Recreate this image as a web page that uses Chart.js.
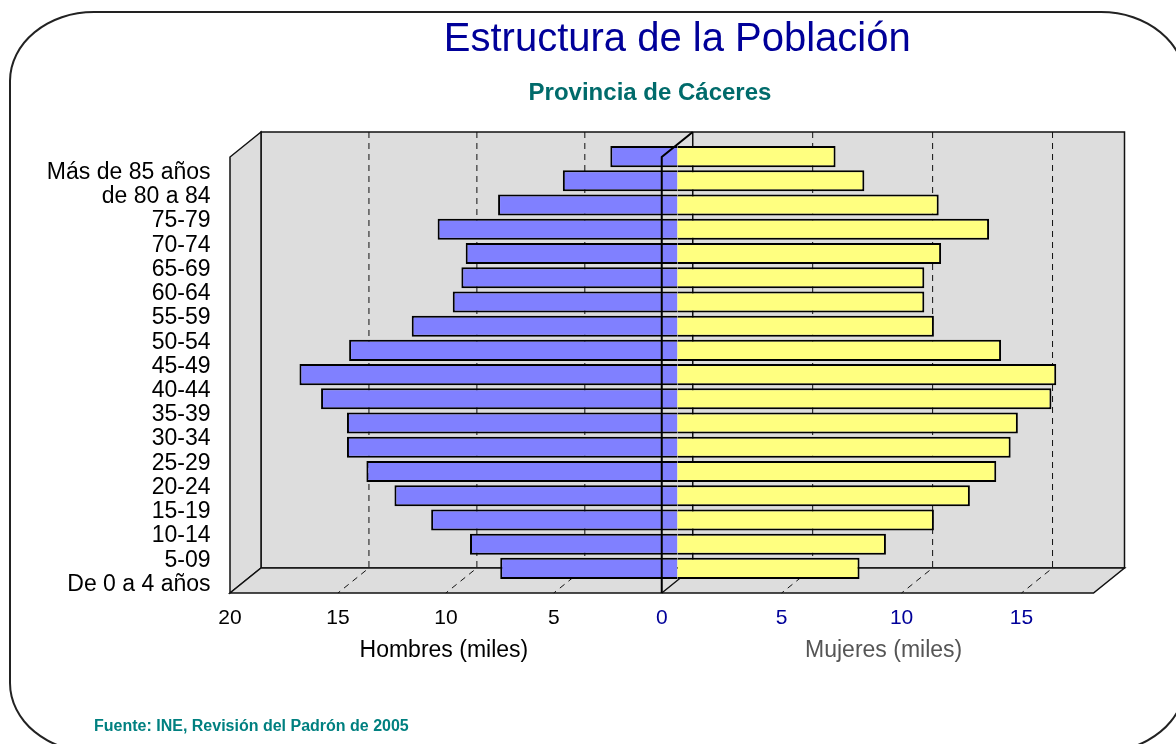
<!DOCTYPE html>
<html>
<head>
<meta charset="utf-8">
<script src="https://cdn.jsdelivr.net/npm/chart.js@4.4.0/dist/chart.umd.min.js"></script>
<style>
    html, body { margin: 0; padding: 0; background: #fff; overflow: hidden; }
    #wrap { position: relative; width: 1176px; height: 744px; overflow: hidden; }
    #frame {
        position: absolute; left: 9px; top: 11px; width: 1173px; height: 738px;
        border: 2px solid #222; border-radius: 85px / 70px;
    }
    #myChart { position: absolute; left: 0; top: 0; }
</style>
</head>
<body>
<div id="wrap">
    <div id="frame"></div>
    <canvas id="myChart" width="1176" height="744"></canvas>
</div>
<script>
const grupos = ['Más de 85 años', 'de 80 a 84', '75-79', '70-74', '65-69', '60-64', '55-59', '50-54', '45-49',
    '40-44', '35-39', '30-34', '25-29', '20-24', '15-19', '10-14', '5-09', 'De 0 a 4 años']
const hombres = [3.1, 5.3, 8.3, 11.1, 9.8, 10.0, 10.4, 12.3, 15.2, 17.5, 16.5, 15.3, 15.3, 14.4, 13.1, 11.4, 9.6, 8.2]
const mujeres = [6.6, 7.8, 10.9, 13.0, 11.0, 10.3, 10.3, 10.7, 13.5, 15.8, 15.6, 14.2, 13.9, 13.3, 12.2, 10.7, 8.7, 7.6]
const ticksHombres = [0, 5, 10, 15, 20]
const ticksMujeres = [0, 5, 10, 15]

const FONT = '"Liberation Sans", Arial, sans-serif'
const DX = 15.5
const DY = 12.5

// draws the 3d box (walls, floor, dashed grid) and the front zero line
const caja3d = {
    id: 'caja3d',
    beforeDraw: function(chart) {
        const ctx = chart.ctx
        const a = chart.chartArea
        const xm = chart.scales.xm
        const xf = chart.scales.xf
        const left = xm.getPixelForValue(20)
        const right = xf.getPixelForValue(18)
        const zero = xf.getPixelForValue(0)
        ctx.save()
        ctx.fillStyle = '#dddddd'
        ctx.strokeStyle = '#111'
        ctx.lineWidth = 1.5
        // back wall
        ctx.fillRect(left + DX, a.top - DY, right - left, a.bottom - a.top)
        ctx.strokeRect(left + DX, a.top - DY, right - left, a.bottom - a.top)
        // side wall
        ctx.beginPath()
        ctx.moveTo(left + DX, a.top - DY)
        ctx.lineTo(left + DX, a.bottom - DY)
        ctx.lineTo(left - DX, a.bottom + DY)
        ctx.lineTo(left - DX, a.top + DY)
        ctx.closePath()
        ctx.fill()
        ctx.stroke()
        // floor
        ctx.beginPath()
        ctx.moveTo(left + DX, a.bottom - DY)
        ctx.lineTo(right + DX, a.bottom - DY)
        ctx.lineTo(right - DX, a.bottom + DY)
        ctx.lineTo(left - DX, a.bottom + DY)
        ctx.closePath()
        ctx.fill()
        ctx.stroke()
        // dashed grid on wall and floor
        ctx.lineWidth = 1
        ctx.setLineDash([6, 5])
        const xs = []
        ticksHombres.forEach(function(v) { if (v > 0 && v < 20) xs.push(xm.getPixelForValue(v)) })
        ticksMujeres.forEach(function(v) { if (v > 0) xs.push(xf.getPixelForValue(v)) })
        xs.forEach(function(x) {
            ctx.beginPath()
            ctx.moveTo(x + DX, a.top - DY)
            ctx.lineTo(x + DX, a.bottom - DY)
            ctx.lineTo(x - DX, a.bottom + DY)
            ctx.stroke()
        })
        ctx.setLineDash([])
        ctx.lineWidth = 1.5
        ctx.beginPath()
        ctx.moveTo(zero + DX, a.top - DY)
        ctx.lineTo(zero + DX, a.bottom - DY)
        ctx.lineTo(zero - DX, a.bottom + DY)
        ctx.stroke()
        ctx.restore()
    },
    afterDatasetsDraw: function(chart) {
        const ctx = chart.ctx
        const a = chart.chartArea
        const zero = chart.scales.xf.getPixelForValue(0)
        ctx.save()
        ctx.strokeStyle = '#000'
        ctx.lineWidth = 2
        ctx.beginPath()
        ctx.moveTo(zero + DX, a.top - DY)
        ctx.lineTo(zero - DX, a.top + DY)
        ctx.lineTo(zero - DX, a.bottom + DY)
        ctx.stroke()
        ctx.restore()
    },
    afterDraw: function(chart) {
        const ctx = chart.ctx
        const xm = chart.scales.xm
        const xf = chart.scales.xf
        ctx.save()
        ctx.textAlign = 'center'
        ctx.textBaseline = 'middle'
        ctx.font = 'bold 24px ' + FONT
        ctx.fillStyle = '#006b6b'
        ctx.fillText('Provincia de Cáceres', 650, 93)
        ctx.font = '23px ' + FONT
        ctx.fillStyle = '#000'
        ctx.fillText('Hombres (miles)', (xm.left + xm.right) / 2 - DX - 2, 651)
        ctx.fillStyle = '#555'
        ctx.fillText('Mujeres (miles)', (xf.left + xf.right) / 2 - DX + 6, 651)
        ctx.textAlign = 'left'
        ctx.font = 'bold 16px ' + FONT
        ctx.fillStyle = '#008080'
        ctx.fillText('Fuente: INE, Revisión del Padrón de 2005', 94, 727)
        ctx.restore()
    }
}

const ctx = document.getElementById('myChart').getContext('2d')

new Chart(ctx, {
    type: 'bar',
    data: {
        labels: grupos,
        datasets: [{
            label: 'Hombres',
            data: hombres,
            xAxisID: 'xm',
            backgroundColor: '#8080ff',
            borderColor: '#000',
            borderWidth: 2,
            grouped: false,
            barPercentage: 0.87,
            categoryPercentage: 1
        }, {
            label: 'Mujeres',
            data: mujeres,
            xAxisID: 'xf',
            backgroundColor: '#ffff80',
            borderColor: '#000',
            borderWidth: 2,
            grouped: false,
            barPercentage: 0.87,
            categoryPercentage: 1
        }]
    },
    options: {
        indexAxis: 'y',
        responsive: false,
        animation: false,
        layout: {
            padding: { left: 0, right: 67, top: 0, bottom: 0 }
        },
        scales: {
            xm: {
                type: 'linear',
                position: 'bottom',
                stack: 'pir',
                reverse: true,
                min: 0,
                max: 20,
                grid: { display: false, drawTicks: false },
                border: { display: false },
                ticks: {
                    stepSize: 5,
                    includeBounds: false,
                    padding: 25,
                    labelOffset: -DX,
                    color: '#000',
                    font: { family: FONT, size: 21 },
                    callback: function(v) { return v === 0 ? '' : v }
                },
                afterFit: function(s) { s.height = 163.5 }
            },
            xf: {
                type: 'linear',
                position: 'bottom',
                stack: 'pir',
                min: 0,
                max: 18,
                grid: { display: false, drawTicks: false },
                border: { display: false },
                ticks: {
                    stepSize: 5,
                    includeBounds: false,
                    padding: 25,
                    labelOffset: -DX,
                    color: '#000099',
                    font: { family: FONT, size: 21 }
                },
                afterFit: function(s) { s.height = 163.5 }
            },
            y: {
                grid: { display: false, drawTicks: false },
                border: { display: false },
                ticks: {
                    autoSkip: false,
                    padding: 35,
                    labelOffset: DY + 3.5,
                    color: '#000',
                    font: { family: FONT, size: 23 }
                },
                afterFit: function(s) { s.width = 245.5 }
            }
        },
        plugins: {
            legend: { display: false },
            tooltip: { enabled: false },
            title: {
                display: true,
                fullSize: false,
                text: 'Estructura de la Población',
                color: '#000099',
                font: { family: FONT, size: 40, weight: 'normal' },
                padding: { top: 16, bottom: 80.5 }
            }
        }
    },
    plugins: [caja3d]
})
</script>
</body>
</html>
